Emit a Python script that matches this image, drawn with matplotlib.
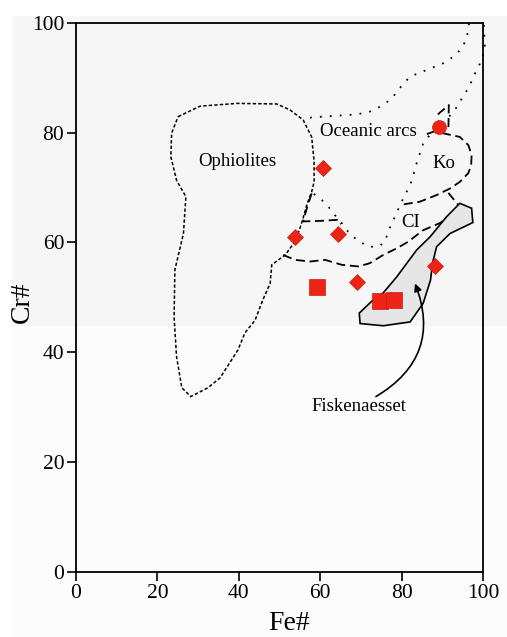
import matplotlib
matplotlib.use("Agg")
import matplotlib.pyplot as plt
from matplotlib.patches import Polygon, Rectangle

plt.rcParams['font.family'] = ['Liberation Serif', 'DejaVu Serif']

# spinel samples
diamond_fe = [60.6, 53.7, 64.4, 69.0, 88.2]
diamond_cr = [73.5, 61.0, 61.5, 52.8, 55.7]
square_fe = [59.1, 74.7, 78.2]
square_cr = [51.8, 49.3, 49.5]
circle_fe = [89.2]
circle_cr = [81.0]

# field outlines (Fe#, Cr#)
ophiolite_fe = [25.1, 30.5, 39.5, 49.3, 52.6, 55.8, 57.9, 58.5, 58.5, 57.9, 56.7,
                55.8, 55.0, 53.8, 51.4, 48.1, 47.7, 45.9, 44.0, 41.5, 39.8, 35.4,
                32.4, 28.2, 26.0, 24.7, 24.1, 24.3, 26.4, 27.0, 24.7, 23.3, 23.5]
ophiolite_cr = [82.9, 84.8, 85.3, 85.2, 84.1, 82.3, 79.2, 74.7, 71.0, 69.2, 66.8,
                64.4, 62.5, 60.1, 57.7, 55.9, 52.5, 49.5, 45.8, 43.5, 40.4, 35.3,
                33.5, 31.9, 33.5, 39.2, 46.4, 55.0, 61.6, 68.3, 71.3, 75.6, 79.9]

arc_upper_fe = [57.5, 60.8, 64.9, 69.0, 72.2, 74.2, 76.2, 77.9, 80.0, 82.1, 86.2,
                90.2, 92.7, 94.8, 96.0, 96.4, 96.6]
arc_upper_cr = [82.7, 82.9, 83.1, 83.3, 83.8, 84.5, 85.4, 86.5, 88.5, 90.2, 91.4,
                92.6, 93.8, 95.3, 97.2, 99.0, 100.0]
arc_lower_fe = [100.2, 100.5, 99.7, 98.8, 97.6, 96.8, 95.6, 94.3, 93.1, 91.2, 89.2,
                87.0, 85.3, 84.5, 83.7, 82.9, 82.1, 80.8, 79.6, 78.8, 77.6, 76.7,
                75.9, 74.3, 71.8, 69.8, 68.1, 66.5, 65.3, 63.2, 62.0, 60.4, 58.3]
arc_lower_cr = [99.6, 95.0, 93.5, 91.7, 90.2, 88.6, 87.1, 85.6, 84.1, 82.5, 81.0,
                79.6, 78.0, 76.2, 74.4, 72.3, 70.4, 68.6, 66.8, 65.3, 63.5, 61.9,
                60.1, 59.2, 59.2, 60.1, 61.0, 62.2, 63.5, 65.3, 66.5, 67.7, 68.9]

ko_fe = [89.9, 94.3, 96.4, 97.2, 97.1, 96.4, 94.3, 91.9, 88.6, 84.5, 79.6]
ko_cr = [79.9, 79.2, 77.7, 75.9, 74.1, 72.6, 71.0, 69.8, 68.6, 67.4, 66.8]
ko_top_fe = [88.9, 91.6, 91.5]
ko_top_cr = [83.3, 85.0, 80.6]
ko_left_fe = [86.2, 88.0]
ko_left_cr = [79.7, 80.2]
ko_tail_fe = [91.5, 93.9]
ko_tail_cr = [69.0, 66.8]

ci_top_fe = [57.9, 56.8, 55.8, 60.0, 64.4, 65.1]
ci_top_cr = [68.9, 66.4, 63.8, 63.9, 64.1, 63.3]
ci_low_fe = [50.9, 53.8, 57.5, 61.2, 65.3, 69.4, 72.2, 75.5, 78.8, 81.6, 85.3, 89.4, 90.2]
ci_low_cr = [57.7, 56.8, 56.5, 56.8, 55.9, 55.6, 56.2, 57.7, 58.9, 60.1, 62.2, 63.5, 63.9]

fisk_fe = [94.3, 97.2, 97.5, 91.9, 88.6, 87.6, 87.1, 85.3, 82.1, 75.5, 69.8, 69.6,
           73.0, 75.5, 78.8, 81.3, 83.7, 87.0, 91.1]
fisk_cr = [67.1, 66.2, 63.6, 61.6, 59.2, 56.2, 53.1, 48.9, 45.5, 44.8, 45.2, 47.1,
           49.5, 50.8, 53.7, 56.2, 58.6, 61.0, 64.7]

ticks = [0, 20, 40, 60, 80, 100]

red = '#ee2416'
dotted = (0, (1, 4.5))
fine_dash = (0, (2.2, 1.4))
long_dash = (0, (5, 2.6))

fig = plt.figure(figsize=(5.07, 6.37), dpi=100)
fig.patch.set_facecolor('white')
# faint scan tone behind the plot
fig.patches.append(Rectangle((12 / 507, 0), 1, 1 - 16 / 637, transform=fig.transFigure,
                             facecolor='#fcfcfc', edgecolor='none', zorder=-10))
fig.patches.append(Rectangle((12 / 507, 1 - 325.7 / 637), 1, (325.7 - 16) / 637,
                             transform=fig.transFigure, facecolor='#f6f6f6',
                             edgecolor='none', zorder=-9))

ax = fig.add_axes([76 / 507, 1 - 571.7 / 637, 407 / 507, 549 / 637])
ax.set_facecolor('none')
ax.set_xlim(0, 100)
ax.set_ylim(0, 100)

ax.add_patch(Polygon(list(zip(ophiolite_fe, ophiolite_cr)), closed=True, fill=False,
                     edgecolor='black', lw=1.1, linestyle=fine_dash))
ax.plot(arc_upper_fe, arc_upper_cr, color='black', lw=1.3, linestyle=dotted, clip_on=False)
ax.plot(arc_lower_fe, arc_lower_cr, color='black', lw=1.3, linestyle=dotted, clip_on=False)

for fx, fy in [(ko_fe, ko_cr), (ko_top_fe, ko_top_cr), (ko_left_fe, ko_left_cr),
               (ko_tail_fe, ko_tail_cr), (ci_top_fe, ci_top_cr), (ci_low_fe, ci_low_cr)]:
    ax.plot(fx, fy, color='black', lw=1.3, linestyle=long_dash)

ax.add_patch(Polygon(list(zip(fisk_fe, fisk_cr)), closed=True, facecolor='#e6e6e6',
                     edgecolor='black', lw=1.2, zorder=3))

ax.plot(diamond_fe, diamond_cr, 'D', color=red, ms=8.6, mec='#c81c10', mew=0.5, zorder=5)
ax.plot(square_fe, square_cr, 's', color=red, ms=11.2, mec='#c81c10', mew=0.5, zorder=5)
ax.plot(circle_fe, circle_cr, 'o', color=red, ms=10, mec='#c81c10', mew=0.5, zorder=5)

label_kw = dict(fontsize=13.5, ha='center', va='center')
ax.text(39.6, 74.8, 'Ophiolites', **label_kw)
ax.text(71.8, 80.1, 'Oceanic arcs', **label_kw)
ax.text(90.5, 74.4, 'Ko', **label_kw)
ax.text(82.3, 63.6, 'CI', **label_kw)
ax.text(69.5, 30.1, 'Fiskenaesset', **label_kw)
ax.annotate('', xy=(83.3, 52.5), xytext=(73.7, 31.9),
            arrowprops=dict(arrowstyle='-|>', color='black', lw=1.2, mutation_scale=11,
                            shrinkA=0, shrinkB=0, connectionstyle='arc3,rad=0.42'))

for s in ax.spines.values():
    s.set_linewidth(1.3)
ax.set_xticks(ticks)
ax.set_yticks(ticks)
ax.tick_params(direction='out', length=6.5, width=1.2, labelsize=15.5, pad=2,
               top=False, right=False)

fig.text(22 / 507, 1 - 302 / 637, 'Cr#', rotation=90, fontsize=20, ha='center', va='center')
fig.text(289 / 507, 7 / 637, 'Fe#', fontsize=20, ha='center', va='baseline')

fig.savefig('out.png', dpi=100)
